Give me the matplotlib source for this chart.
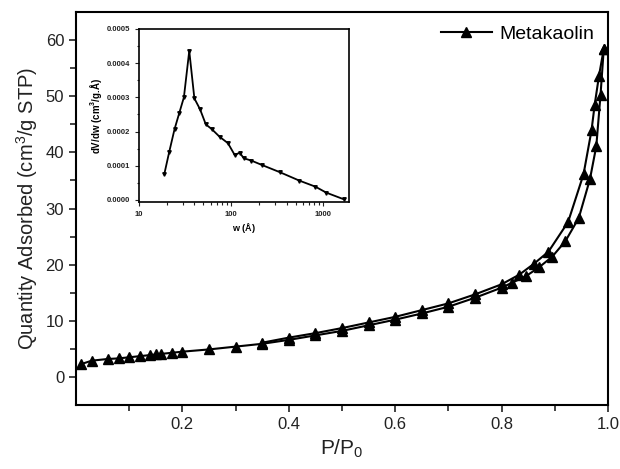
import numpy as np
import matplotlib
matplotlib.use("Agg")
from matplotlib import pyplot as plt
from matplotlib.ticker import MultipleLocator, FixedLocator, FixedFormatter, LogLocator, NullFormatter

plt.rcParams['font.family'] = ['Liberation Sans', 'DejaVu Sans']
plt.rcParams['mathtext.fontset'] = 'custom'
plt.rcParams['mathtext.rm'] = 'Liberation Sans'
plt.rcParams['mathtext.it'] = 'Liberation Sans'
plt.rcParams['mathtext.bf'] = 'Liberation Sans:bold'

# isotherm, adsorption branch
p_ads = [0.01, 0.03, 0.06, 0.08, 0.10, 0.12, 0.14, 0.15, 0.16, 0.18, 0.20,
         0.25, 0.30, 0.35, 0.40, 0.45, 0.50, 0.55, 0.60, 0.65, 0.70, 0.75,
         0.80, 0.82, 0.845, 0.87, 0.895, 0.92, 0.945, 0.966, 0.978, 0.986, 0.992]
q_ads = [2.3, 2.9, 3.2, 3.3, 3.5, 3.7, 3.9, 4.0, 4.1, 4.3, 4.5,
         4.9, 5.4, 5.9, 6.6, 7.4, 8.2, 9.2, 10.2, 11.3, 12.5, 14.1,
         15.9, 16.8, 17.9, 19.5, 21.4, 24.2, 28.3, 35.2, 41.1, 50.3, 58.4]

# desorption branch
p_des = [0.992, 0.983, 0.975, 0.969, 0.954, 0.925, 0.888, 0.86, 0.833, 0.80,
         0.75, 0.70, 0.65, 0.60, 0.55, 0.50, 0.45, 0.40, 0.35]
q_des = [58.4, 53.6, 48.5, 43.9, 36.1, 27.6, 22.3, 20.1, 18.2, 16.5,
         14.7, 13.1, 11.9, 10.7, 9.7, 8.7, 7.8, 7.0, 6.1]

# pore size distribution (inset)
w = [18.8, 21.3, 24.3, 27.4, 30.7, 35.1, 39.9, 46.0, 53.1, 61.7, 74.8, 92.3,
     109, 124, 137, 166, 217, 339, 550, 818, 1079, 1667]
dvdw = [0.0000751, 0.000141, 0.000207, 0.000255, 0.000300, 0.000436, 0.000297,
        0.000265, 0.000221, 0.000207, 0.000185, 0.000166, 0.000132, 0.000138,
        0.000122, 0.000115, 0.000102, 0.000081, 0.0000565, 0.000039, 0.0000213,
        0.000002]

fig = plt.figure(figsize=(6.2, 4.69), dpi=100)
ax = fig.add_axes([76/620, 1-405/469, 532/620, 393/469])

ax.plot(p_ads, q_ads, '-^', c='k', lw=1.5, ms=6.5, label='Metakaolin')
ax.plot(p_des, q_des, '-^', c='k', lw=1.5, ms=6.5)

ax.set_xlim(0, 1.0)
ax.set_ylim(-5, 65)
ax.set_xticks([0.2, 0.4, 0.6, 0.8, 1.0])
ax.set_xticklabels(['0.2', '0.4', '0.6', '0.8', '1.0'])
ax.xaxis.set_minor_locator(FixedLocator([0.1, 0.3, 0.5, 0.7, 0.9]))
ax.set_yticks([0, 10, 20, 30, 40, 50, 60])
ax.yaxis.set_minor_locator(FixedLocator([5, 15, 25, 35, 45, 55]))
ax.tick_params(which='both', direction='out', top=False, right=False,
               labelsize=12, width=1.2, colors='#222222')
ax.tick_params(which='major', length=5)
ax.tick_params(which='minor', length=4)
for s in ax.spines.values():
    s.set_linewidth(1.5)
ax.set_xlabel(r'P/P$_0$', fontsize=15, color='#222222')
ax.set_ylabel(r'Quantity Adsorbed (cm$^3$/g STP)', fontsize=14.5, color='#222222')
ax.legend(loc='upper right', frameon=False, fontsize=14, handlelength=2.6,
          borderaxespad=0.3, handletextpad=0.4)

# inset
ins = fig.add_axes([139/620, 1-202/469, 210/620, 173/469])
ins.plot(w, dvdw, '-v', c='k', lw=1.3, ms=2.5)
ins.set_xscale('log')
ins.set_xlim(10, 1900)
ins.set_ylim(-0.000006, 0.0005)
ins.xaxis.set_major_locator(FixedLocator([10, 100, 1000]))
ins.xaxis.set_major_formatter(FixedFormatter(['10', '100', '1000']))
ins.xaxis.set_minor_locator(LogLocator(base=10, subs=np.arange(2, 10)))
ins.xaxis.set_minor_formatter(NullFormatter())
ins.set_yticks([0, 0.0001, 0.0002, 0.0003, 0.0004, 0.0005])
ins.set_yticklabels(['0.0000', '0.0001', '0.0002', '0.0003', '0.0004', '0.0005'])
ins.yaxis.set_minor_locator(MultipleLocator(0.00005))
ins.tick_params(which='both', direction='out', labelsize=5.5, width=0.8,
                colors='#222222')
ins.tick_params(which='major', length=3)
ins.tick_params(which='minor', length=1.8)
for lab in ins.get_xticklabels() + ins.get_yticklabels():
    lab.set_fontweight('bold')
for s in ins.spines.values():
    s.set_linewidth(1.2)
ins.set_xlabel(r'w ($\mathbf{\AA}$)', fontsize=6.5, fontweight='bold', labelpad=2)
ins.set_ylabel(r'dV/dw (cm$\mathbf{^3}$/g.$\mathbf{\AA}$)', fontsize=7,
               fontweight='bold', labelpad=2)

plt.savefig('out.png', dpi=100)
plt.close()
